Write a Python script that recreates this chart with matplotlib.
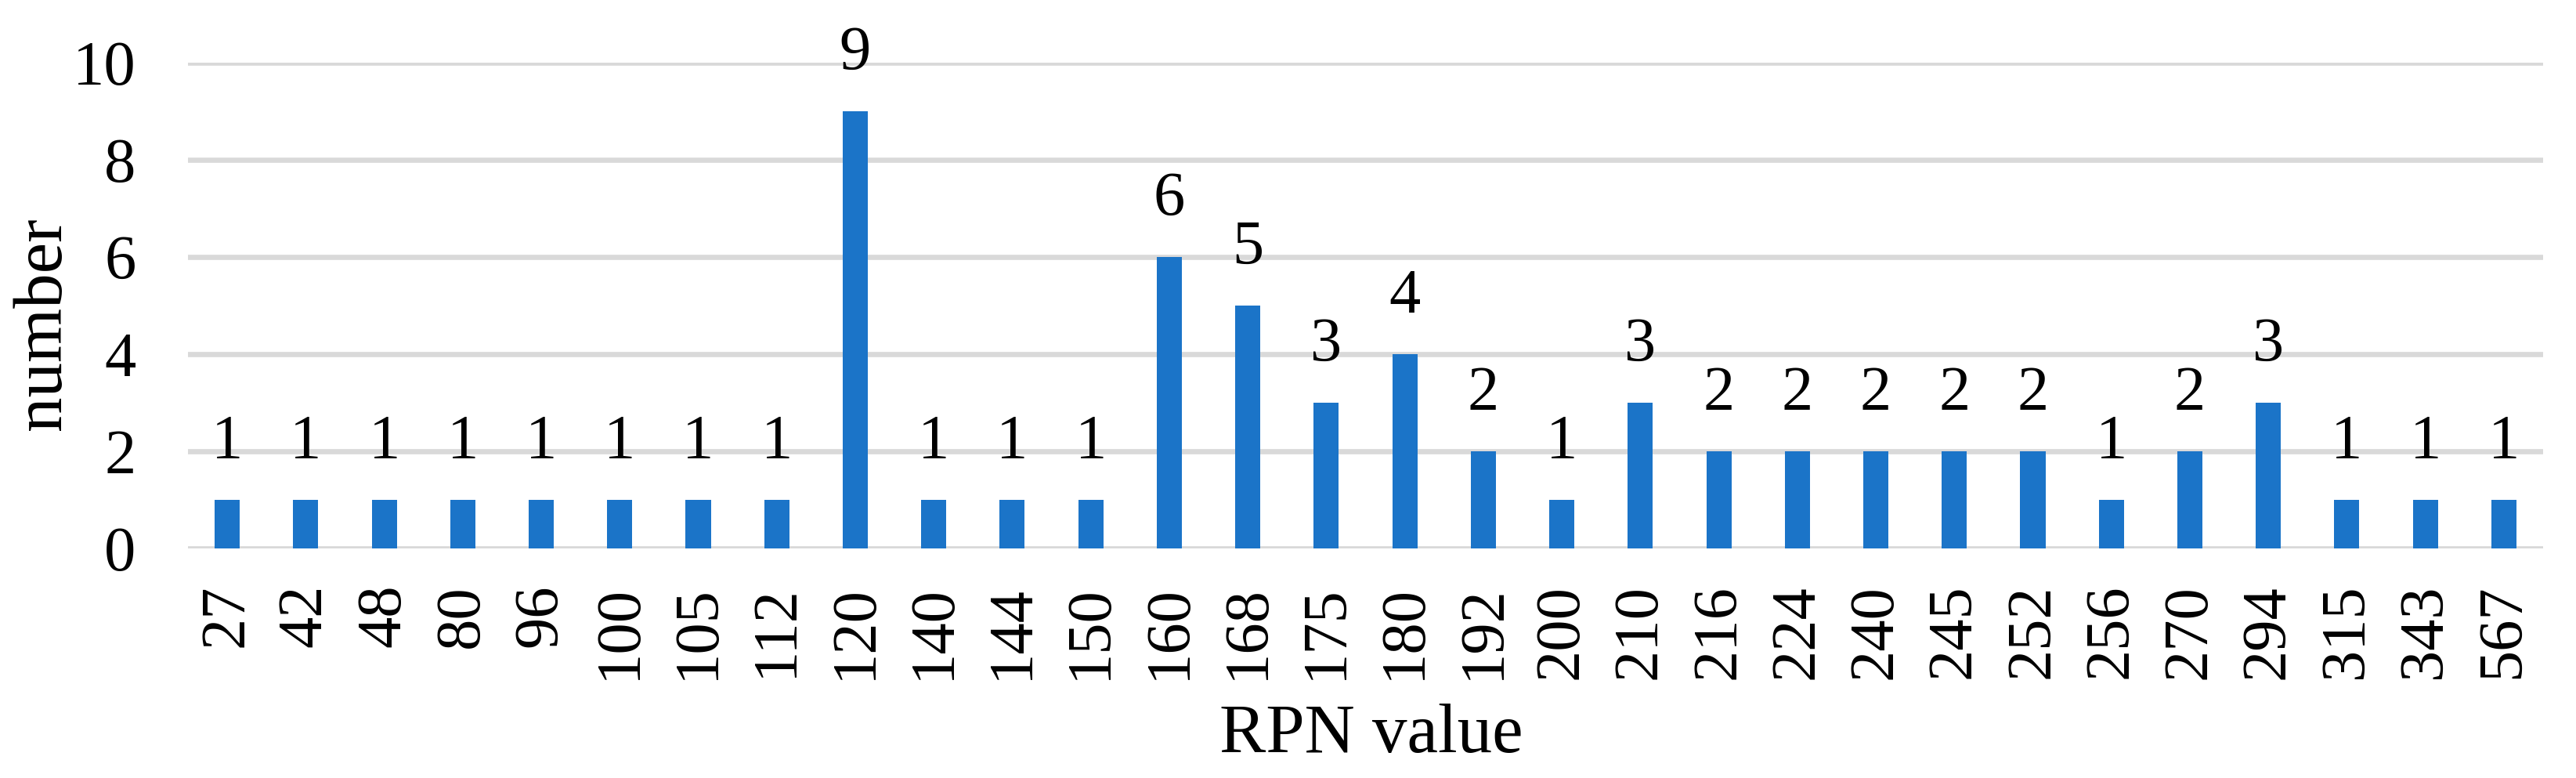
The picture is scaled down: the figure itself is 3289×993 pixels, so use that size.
import matplotlib
matplotlib.use('Agg')
import matplotlib.pyplot as plt
import numpy as np

# RPN values and how often each occurs
rpn_labels = ['27', '42', '48', '80', '96', '100', '105', '112', '120', '140',
              '144', '150', '160', '168', '175', '180', '192', '200', '210', '216',
              '224', '240', '245', '252', '256', '270', '294', '315', '343', '567']
counts = [1, 1, 1, 1, 1, 1, 1, 1, 9, 1,
          1, 1, 6, 5, 3, 4, 2, 1, 3, 2,
          2, 2, 2, 2, 1, 2, 3, 1, 1, 1]
y_ticks = [0, 2, 4, 6, 8, 10]

plt.rcParams['font.family'] = ['Liberation Serif', 'DejaVu Serif']

W, H = 3289, 993
fig = plt.figure(figsize=(W / 100, H / 100), dpi=100)
ax = fig.add_axes([240 / W, 1 - 700 / H, (3247 - 240) / W, (700 - 80) / H])

x = np.arange(len(rpn_labels))
bars = ax.bar(x, counts, width=0.32, color='#1B74C8', zorder=3)

for xi, c in zip(x, counts):
    ax.annotate(str(c), (xi, c), xytext=(0, 38), textcoords='offset points',
                ha='center', va='baseline', fontsize=58, color='black')

ax.set_xlim(-0.5, len(rpn_labels) - 0.5)
ax.set_ylim(0, 10)
ax.set_yticks(y_ticks)
ax.set_xticks(x)
ax.set_xticklabels(rpn_labels, rotation=90)
ax.tick_params(axis='y', length=0, pad=48, labelsize=58)
ax.tick_params(axis='x', length=0, pad=33, labelsize=58)

ax.grid(axis='y', color='#D9D9D9', linewidth=4.8, zorder=0)
ax.set_axisbelow(True)
for s in ax.spines.values():
    s.set_visible(False)

fig.text(77 / W, 1 - 413 / H, 'number', rotation=90, rotation_mode='anchor',
         ha='center', va='baseline', fontsize=64)
fig.text(1751 / W, 1 - 960 / H, 'RPN value', ha='center', va='baseline', fontsize=64)

fig.savefig('out.png', dpi=100, facecolor='white')
